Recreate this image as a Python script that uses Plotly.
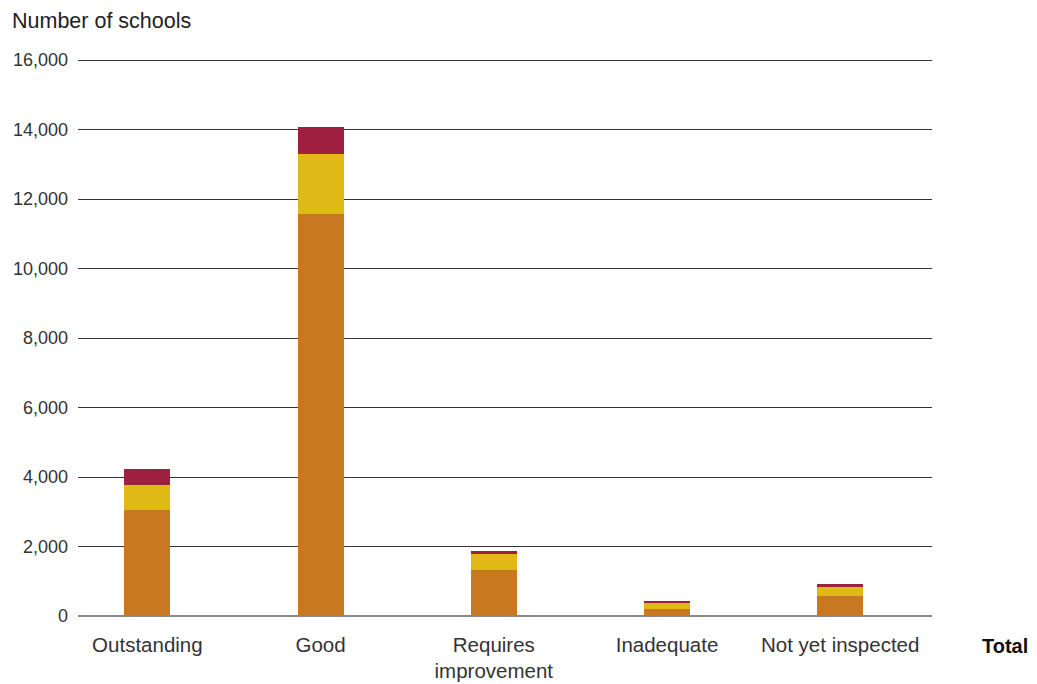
import plotly.graph_objects as go

categories = ["Outstanding", "Good", "Requires<br>improvement", "Inadequate", "Not yet inspected"]
series_names = ["Series A", "Series B", "Series C"]
orange_vals = [3050, 11570, 1320, 200, 575]
yellow_vals = [720, 1730, 460, 200, 260]
crimson_vals = [460, 770, 90, 30, 85]
y_ticks = [0, 2000, 4000, 6000, 8000, 10000, 12000, 14000, 16000]

colors = ["#C87820", "#DFB915", "#9E1F3F"]

fig = go.Figure()
for name, vals, col in zip(series_names, [orange_vals, yellow_vals, crimson_vals], colors):
    fig.add_trace(go.Bar(x=categories, y=vals, name=name, marker=dict(color=col, line=dict(width=0)),
                         width=0.2656, showlegend=False))

# page body has an 8px margin, so the figure div starts at (8, 8)
W, H = 1029, 676
L, T = 70, 50
PW, PH = 854, 558
font_family = "Liberation Sans, Arial, sans-serif"
fig.update_layout(
    barmode="stack",
    width=W, height=H,
    margin=dict(l=L, r=W - L - PW, t=T, b=H - T - PH, pad=0),
    plot_bgcolor="white", paper_bgcolor="white",
    font=dict(family=font_family, size=20, color="#333333"),
    xaxis=dict(range=[-0.4007, 4.530], showgrid=False, showline=False, ticks="",
               tickfont=dict(size=20.5, color="#333333"), ticklabelstandoff=14,
               automargin=False),
    yaxis=dict(range=[0, 16060], tickvals=y_ticks, tickformat=",", showgrid=True,
               gridcolor="#333333", gridwidth=1, zeroline=True, zerolinecolor="#8a8a8a",
               zerolinewidth=2, ticks="", tickfont=dict(size=18, color="#333333"),
               showline=False, ticklabelstandoff=9, automargin=False),
    annotations=[
        dict(text="Number of schools", xref="paper", yref="paper", x=-68 / PW, y=1 + 37 / PH,
             xanchor="left", yanchor="middle", showarrow=False,
             font=dict(size=21.5, color="#222222")),
        dict(text="<b>Total</b>", xref="paper", yref="paper", x=1 + 73 / PW, y=-30 / PH,
             xanchor="center", yanchor="middle", showarrow=False,
             font=dict(size=20, color="#111111")),
    ],
)

fig.write_html("out.html")
